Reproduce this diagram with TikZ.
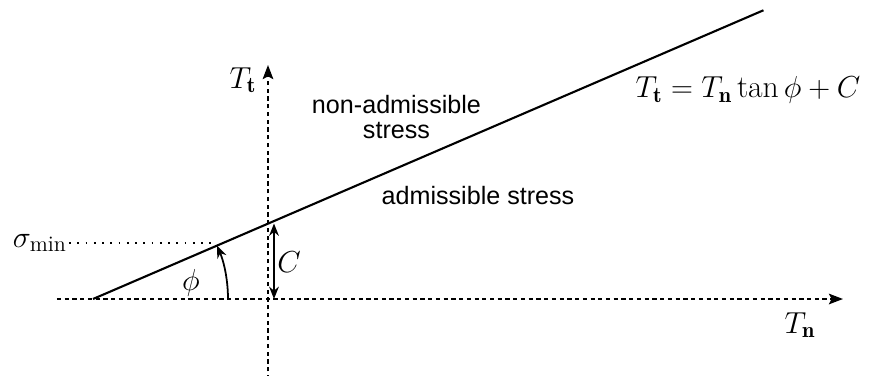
\documentclass[tikz,border=0pt]{standalone}
\usepackage{amsmath}
\usepackage{fontspec}
\setsansfont{Liberation Sans}
\usetikzlibrary{arrows.meta,calc}

\tikzset{
  axis/.style={line width=1.1pt, dash pattern=on 2.4pt off 2pt, -{Stealth[length=8pt,width=6pt,inset=1.5pt]}},
  crit/.style={line width=1.2pt},
  textlabel/.style={font=\sffamily\fontsize{14.3}{13.8}\selectfont, align=center}
}

\begin{document}
\begin{tikzpicture}[x=1cm,y=1cm,font=\fontsize{18}{21}\selectfont]
\path[use as bounding box] (-5.36,-1.52) rectangle (12.08,5.98);
% axes
\coordinate (xstart) at (-4.22,0);
\coordinate (xend) at (11.5,0);
\coordinate (ystart) at (0,-1.6);
\coordinate (yend) at (0,4.68);
\draw[axis] (xstart) -- (xend);
\draw[axis] (ystart) -- (yend);
\node (Tt) at (-0.5,4.38) {$T_{\mathbf{t}}$};
\node (Tn) at (10.64,-0.52) {$T_{\mathbf{n}}$};
% criterion line
\coordinate (lstart) at (-3.5,0);
\coordinate (lend) at ($(lstart)+(23.3:14.6)$);
\draw[crit] (lstart) -- (lend);
\node (eq) at (9.6,4.18) {$T_{\mathbf{t}} = T_{\mathbf{n}} \tan\phi + C$};
% cohesion
\coordinate (cbot) at (0.12,0);
\coordinate (ctop) at (0.12,1.51);
\draw[line width=1.1pt, {Stealth[length=7pt,width=5.5pt]}-{Stealth[length=7pt,width=5.5pt]}] (ctop) -- (cbot);
\node (C) at (0.42,0.74) {$C$};
% angle
\coordinate (astart) at (-0.8,0);
\draw[line width=1pt, -{Stealth[length=7pt,width=5.5pt]}] (astart) arc[start angle=0, end angle=23.3, radius=2.7];
\node (phi) at (-1.54,0.32) {$\phi$};
% sigma min
\node[anchor=east, inner sep=1pt] (smin) at (-3.98,1.12) {$\sigma_{\min}$};
\coordinate (sline) at (-1.1,1.12);
\draw[line width=1pt, dash pattern=on 1pt off 3.7pt] (smin.east) -- (sline);
% regions
\node[textlabel] (nonadm) at (2.57,3.64) {non-admissible\\stress};
\node[textlabel] (adm) at (4.2,2.06) {admissible stress};
\end{tikzpicture}
\end{document}
